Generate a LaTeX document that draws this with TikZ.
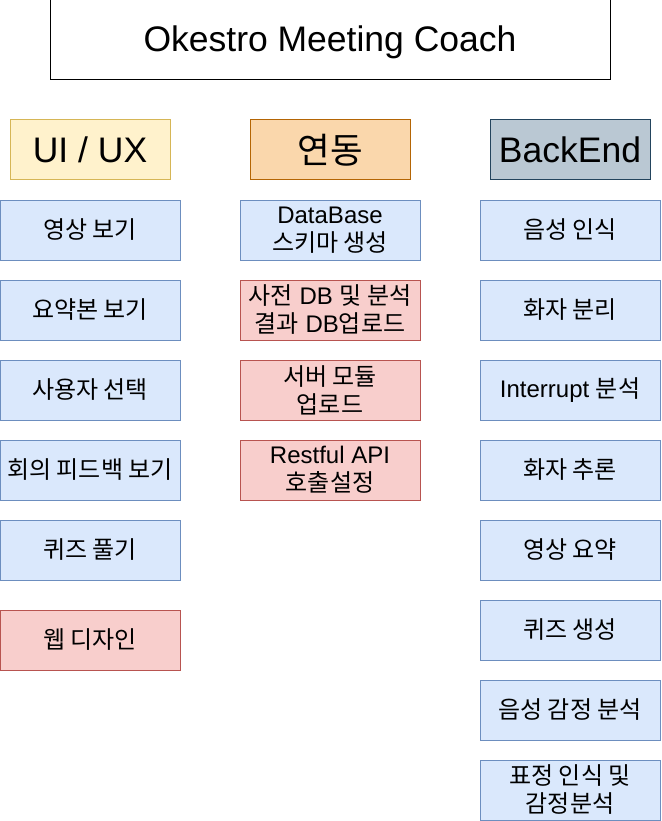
\documentclass[tikz,border=0pt]{standalone}
\usepackage{fontspec}
\setmainfont{Liberation Sans}
\newfontfamily\krfont{Noto Sans CJK KR}
\newcommand{\kr}[1]{{\krfont #1}}
\definecolor{bluefill}{HTML}{DAE8FC}
\definecolor{bluedraw}{HTML}{6C8EBF}
\definecolor{redfill}{HTML}{F8CECC}
\definecolor{reddraw}{HTML}{B85450}
\definecolor{yelfill}{HTML}{FFF2CC}
\definecolor{yeldraw}{HTML}{D6B656}
\definecolor{orfill}{HTML}{FAD7AC}
\definecolor{ordraw}{HTML}{B46504}
\definecolor{grfill}{HTML}{BAC8D3}
\definecolor{grdraw}{HTML}{23445D}
\tikzset{
  x=1pt,y=-1pt,
  box/.style={draw, line width=1pt, minimum width=180pt, minimum height=60pt, inner sep=1pt, align=center, font=\fontsize{24}{28}\selectfont},
  bluebox/.style={box, fill=bluefill, draw=bluedraw},
  redbox/.style={box, fill=redfill, draw=reddraw},
  headbox/.style={draw, line width=1pt, minimum width=160pt, minimum height=60pt, inner sep=2pt, font=\fontsize{35.5}{40}\selectfont},
}
\begin{document}
\begin{tikzpicture}
\useasboundingbox (0,0) rectangle (661,821);
\node[draw=black, line width=1pt, minimum width=560pt, minimum height=80pt] (title) at (330,40) {};
\node[font=\fontsize{35.5}{40}\selectfont, inner sep=0pt] (titletext) at ([yshift=-2pt]title.center) {Okestro Meeting Coach};
\node[headbox, fill=yelfill, draw=yeldraw] (uiux) at (90,150) {UI / UX};
\node[headbox, fill=orfill, draw=ordraw] (link) at (330,150) {\kr{연동}};
\node[headbox, fill=grfill, draw=grdraw] (backend) at (570,150) {BackEnd};
% left column
\node[bluebox] (l1) at (90,230) {\kr{영상 보기}};
\node[bluebox] (l2) at (90,310) {\kr{요약본 보기}};
\node[bluebox] (l3) at (90,390) {\kr{사용자 선택}};
\node[bluebox] (l4) at (90,470) {\kr{회의 피드백 보기}};
\node[bluebox] (l5) at (90,550) {\kr{퀴즈 풀기}};
\node[redbox] (l6) at (90,640) {\kr{웹 디자인}};
% middle column
\node[bluebox] (m1) at (330,230) {DataBase\\\kr{스키마 생성}};
\node[redbox] (m2) at (330,310) {\kr{사전} DB \kr{및 분석}\\\kr{결과} DB\kr{업로드}};
\node[redbox] (m3) at (330,390) {\kr{서버 모듈}\\\kr{업로드}};
\node[redbox] (m4) at (330,470) {Restful API\\\kr{호출설정}};
% right column
\node[bluebox] (r1) at (570,230) {\kr{음성 인식}};
\node[bluebox] (r2) at (570,310) {\kr{화자 분리}};
\node[bluebox] (r3) at (570,390) {Interrupt \kr{분석}};
\node[bluebox] (r4) at (570,470) {\kr{화자 추론}};
\node[bluebox] (r5) at (570,550) {\kr{영상 요약}};
\node[bluebox] (r6) at (570,630) {\kr{퀴즈 생성}};
\node[bluebox] (r7) at (570,710) {\kr{음성 감정 분석}};
\node[bluebox] (r8) at (570,790) {\kr{표정 인식 및}\\\kr{감정분석}};
\end{tikzpicture}
\end{document}
